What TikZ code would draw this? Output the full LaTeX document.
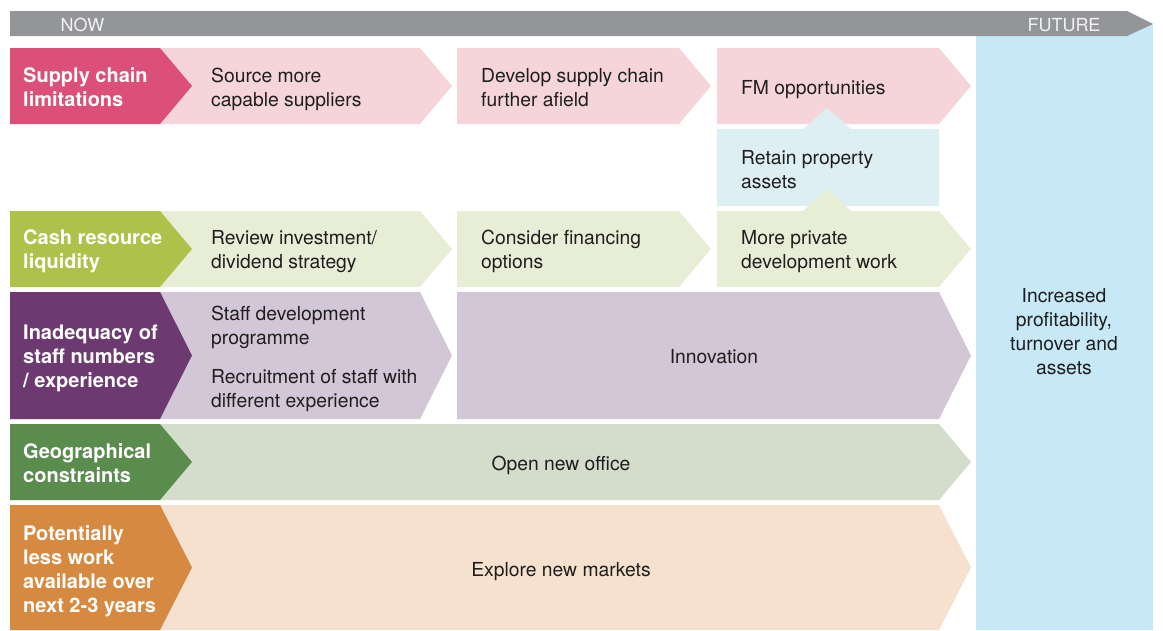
\documentclass[tikz,border=0pt]{standalone}
\usepackage{fontspec}
\setmainfont{TeX Gyre Heros}
\definecolor{barg}{HTML}{939598}
\definecolor{bartxt}{HTML}{F2F2F2}
\definecolor{txt}{HTML}{1E1E1E}
\definecolor{pinkD}{HTML}{DB4F79}
\definecolor{pinkL}{HTML}{F5D4DA}
\definecolor{oliveD}{HTML}{AEC14A}
\definecolor{oliveL}{HTML}{E8EDD5}
\definecolor{purD}{HTML}{6C3A70}
\definecolor{purL}{HTML}{D3C6D7}
\definecolor{grnD}{HTML}{5A8C4E}
\definecolor{grnL}{HTML}{D4DCCC}
\definecolor{orD}{HTML}{D68A41}
\definecolor{orL}{HTML}{F5E1CD}
\definecolor{retainc}{HTML}{DEEFF3}
\definecolor{futurec}{HTML}{C6E8F7}
\newcommand{\chev}[5]{\fill[#1] (#2,#4) -- (#3,#4) -- ({#3+32},{(#4+#5)/2}) -- (#3,#5) -- (#2,#5) -- cycle;}
\tikzset{
  lbl/.style={anchor=base west, inner sep=0pt, align=left, text=white, font=\fontsize{20}{24}\selectfont\bfseries},
  itm/.style={anchor=base west, inner sep=0pt, align=left, text=txt, font=\fontsize{19.3}{24}\selectfont},
  itmc/.style={anchor=base, inner sep=0pt, align=center, text=txt, font=\fontsize{19.3}{24}\selectfont},
  bartext/.style={anchor=base, inner sep=0pt, text=bartxt, font=\fontsize{18}{22}\selectfont}
}
\begin{document}
\begin{tikzpicture}[x=1pt,y=-1pt]
\useasboundingbox (0,0) rectangle (1163,630);
% future column
\fill[futurec] (976,24) rectangle (1153,630);
% time bar
\fill[barg] (10,11) -- (1127,11) -- (1153,24) -- (1127,36) -- (10,36) -- cycle;
\node[bartext] (now) at (82.5,31) {NOW};
\node[bartext] (future) at (1064,31) {FUTURE};
% row 1
\chev{pinkL}{10}{420}{48}{124}
\chev{pinkL}{457}{679}{48}{124}
\chev{pinkL}{717}{939}{48}{124}
\chev{pinkD}{10}{160}{48}{124}
% retain box
\fill[retainc] (803,129) -- (827,108) -- (851,129) -- cycle;
\fill[retainc] (717,129) rectangle (939,206);
% row 2
\chev{oliveL}{10}{420}{211}{287}
\chev{oliveL}{457}{679}{211}{287}
\chev{oliveL}{717}{939}{211}{287}
\fill[oliveL] (803,211) -- (827,189) -- (851,211) -- cycle;
\chev{oliveD}{10}{160}{211}{287}
% row 3
\chev{purL}{10}{420}{292}{419}
\chev{purL}{457}{939}{292}{419}
\chev{purD}{10}{160}{292}{419}
% row 4
\chev{grnL}{10}{939}{424}{500}
\chev{grnD}{10}{160}{424}{500}
% row 5
\chev{orL}{10}{939}{505}{630}
\chev{orD}{10}{160}{505}{630}
% labels (base = baseline of last line)
\node[lbl] (l1) at (23,106) {Supply chain\\limitations};
\node[lbl] (l2) at (23,268) {Cash resource\\liquidity};
\node[lbl] (l3) at (23,387) {Inadequacy of\\staff numbers\\/ experience};
\node[lbl] (l4) at (23,482) {Geographical\\constraints};
\node[lbl] (l5) at (23,612) {Potentially\\less work\\available over\\next 2-3 years};
% items
\node[itm] (a1) at (211,106) {Source more\\capable suppliers};
\node[itm] (a2) at (481,106) {Develop supply chain\\further afield};
\node[itm] (a3) at (741,94) {FM opportunities};
\node[itm] (r1) at (741,188) {Retain property\\assets};
\node[itm] (b1) at (211,268) {Review investment/\\dividend strategy};
\node[itm] (b2) at (481,268) {Consider financing\\options};
\node[itm] (b3) at (741,268) {More private\\development work};
\node[itm] (c1) at (211,344) {Staff development\\programme};
\node[itm] (c2) at (211,407) {Recruitment of staff with\\different experience};
\node[itmc] (c3) at (714,363) {Innovation};
\node[itmc] (d1) at (561,470) {Open new office};
\node[itmc] (e1) at (561,576) {Explore new markets};
\node[itmc] (f1) at (1064,374) {Increased\\profitability,\\turnover and\\assets};
\end{tikzpicture}
\end{document}
